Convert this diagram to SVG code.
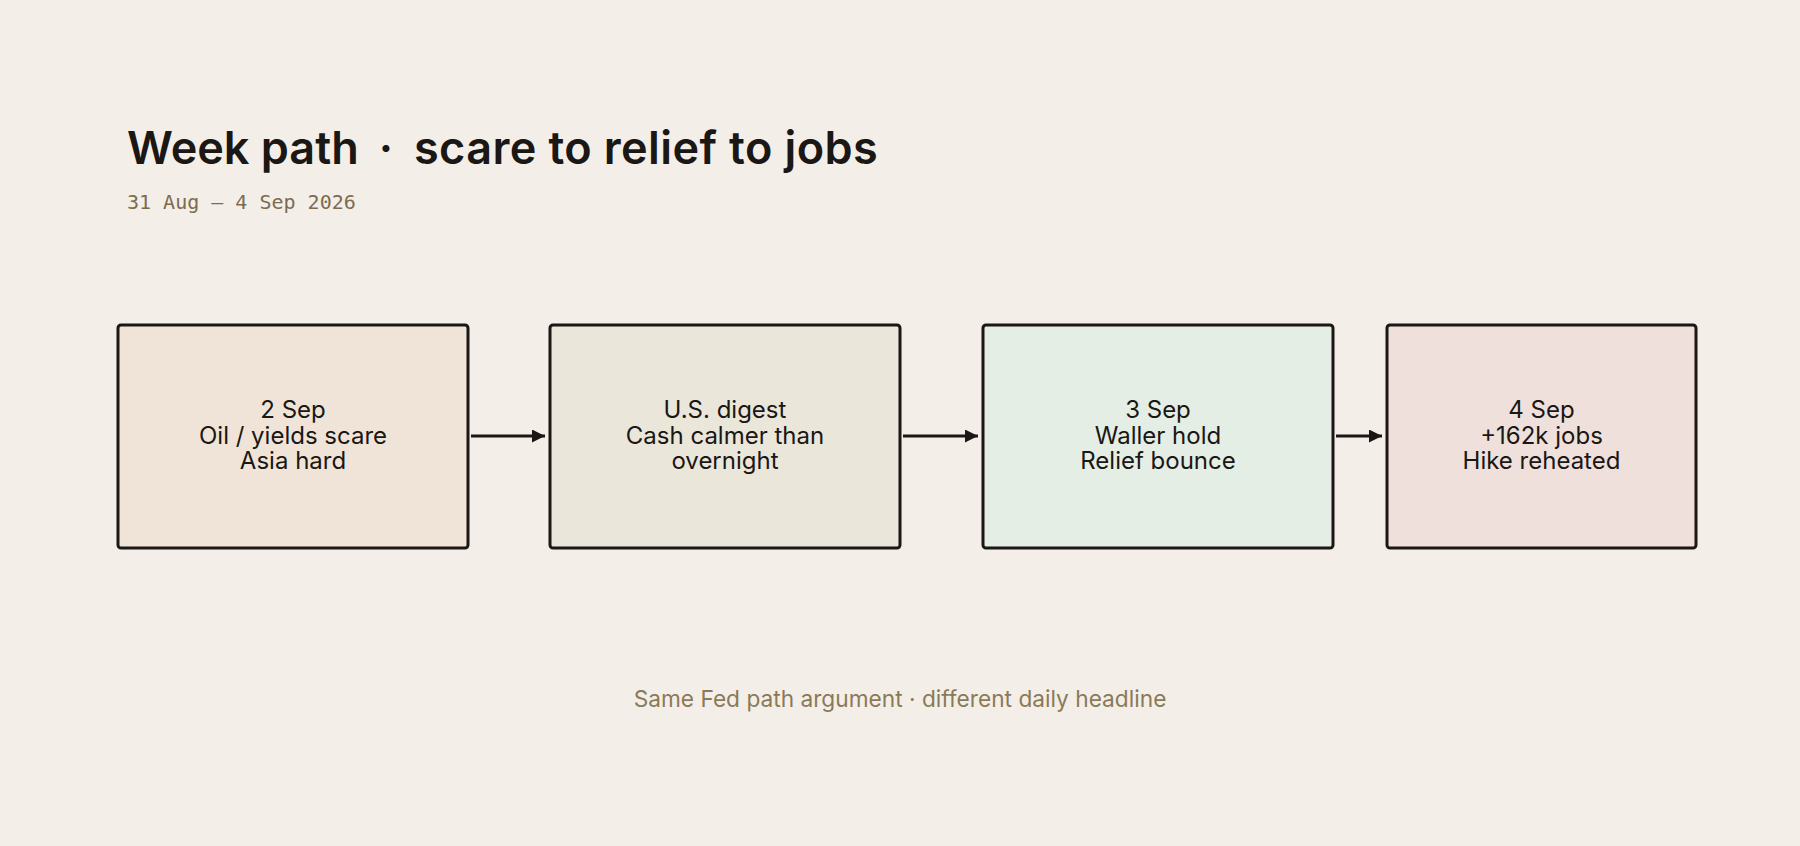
<svg xmlns="http://www.w3.org/2000/svg" width="1800" height="846" viewBox="0 0 1800 846">
<style>
.bg{fill:#f3efe8}
.box{stroke:#1a1714;stroke-width:3}
.lbl{font-family:Inter,"Noto Sans",sans-serif;font-size:24px;fill:#1a1714;text-anchor:middle}
.title{font-family:Inter,"Noto Sans",sans-serif;font-size:45px;font-weight:600;fill:#1a1714}
.sub{font-family:"DejaVu Sans Mono","Liberation Mono",monospace;font-size:20px;fill:#7d6b50}
.foot{font-family:Inter,"Noto Sans",sans-serif;font-size:22.7px;fill:#8a7a58;text-anchor:middle}
.conn{stroke:#1a1714;stroke-width:3;fill:none}
</style>
<defs>
<marker id="ah" viewBox="0 0 10 10" refX="10" refY="5" markerWidth="14" markerHeight="13" markerUnits="userSpaceOnUse" orient="auto">
<path d="M0,0 L10,5 L0,10 z" fill="#1a1714"/>
</marker>
</defs>
<rect class="bg" x="0" y="0" width="1800" height="846"/>
<text class="title" x="127" y="164">Week path</text>
<text class="title" x="386" y="164" text-anchor="middle">·</text>
<text class="title" x="414" y="164" letter-spacing="0.4">scare to relief to jobs</text>
<text class="sub" x="127" y="209">31 Aug – 4 Sep 2026</text>
<g id="connectors">
<line class="conn" x1="471" y1="436" x2="545" y2="436" marker-end="url(#ah)"/>
<line class="conn" x1="903" y1="436" x2="978" y2="436" marker-end="url(#ah)"/>
<line class="conn" x1="1336" y1="436" x2="1382" y2="436" marker-end="url(#ah)"/>
</g>
<g id="node1">
<rect class="box" x="118" y="325" width="350" height="223" rx="3" fill="#f0e4d8"/>
<text class="lbl" x="293" y="418">2 Sep</text>
<text class="lbl" x="293" y="443.5">Oil / yields scare</text>
<text class="lbl" x="293" y="469">Asia hard</text>
</g>
<g id="node2">
<rect class="box" x="550" y="325" width="350" height="223" rx="3" fill="#ebe6da"/>
<text class="lbl" x="725" y="418">U.S. digest</text>
<text class="lbl" x="725" y="443.5">Cash calmer than</text>
<text class="lbl" x="725" y="469">overnight</text>
</g>
<g id="node3">
<rect class="box" x="983" y="325" width="350" height="223" rx="3" fill="#e4eee4"/>
<text class="lbl" x="1158" y="418">3 Sep</text>
<text class="lbl" x="1158" y="443.5">Waller hold</text>
<text class="lbl" x="1158" y="469">Relief bounce</text>
</g>
<g id="node4">
<rect class="box" x="1387" y="325" width="309" height="223" rx="3" fill="#efe0dc"/>
<text class="lbl" x="1541.5" y="418">4 Sep</text>
<text class="lbl" x="1541.5" y="443.5">+162k jobs</text>
<text class="lbl" x="1541.5" y="469">Hike reheated</text>
</g>
<text class="foot" x="900" y="707">Same Fed path argument · different daily headline</text>
</svg>
